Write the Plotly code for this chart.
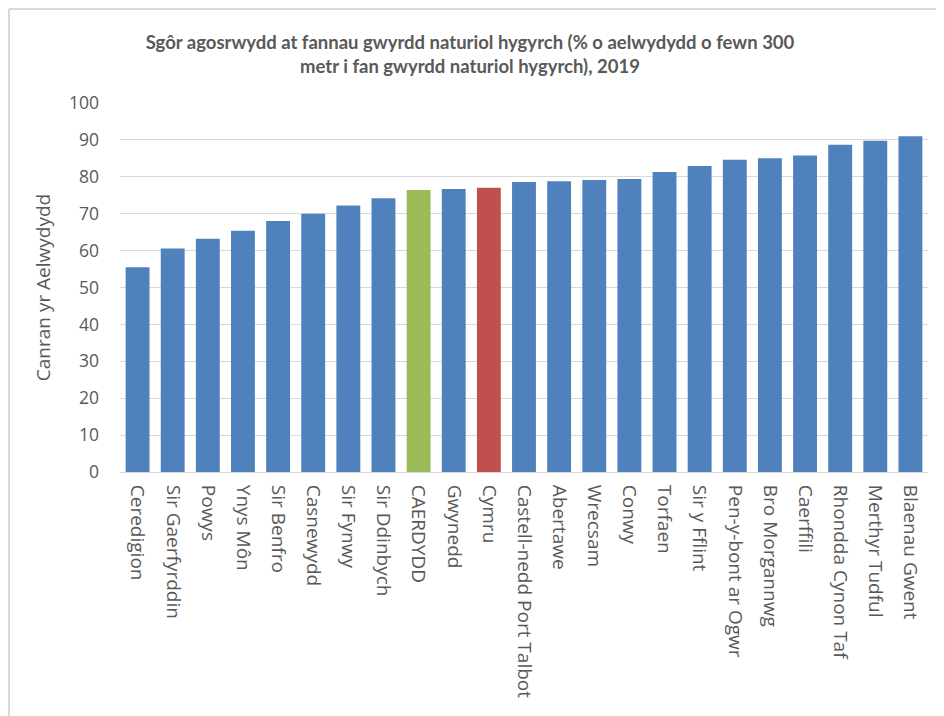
import plotly.graph_objects as go

categories = ["Ceredigion", "Sir Gaerfyrddin", "Powys", "Ynys Môn", "Sir Benfro", "Casnewydd",
              "Sir Fynwy", "Sir Ddinbych", "CAERDYDD", "Gwynedd", "Cymru",
              "Castell-nedd Port Talbot", "Abertawe", "Wrecsam", "Conwy", "Torfaen",
              "Sir y Fflint", "Pen-y-bont ar Ogwr", "Bro Morgannwg", "Caerffili",
              "Rhondda Cynon Taf", "Merthyr Tudful", "Blaenau Gwent"]
values = [55.5, 60.6, 63.2, 65.4, 68.0, 70.0, 72.2, 74.2, 76.4, 76.7, 77.0,
          78.6, 78.8, 79.1, 79.4, 81.3, 82.9, 84.6, 85.0, 85.8, 88.7, 89.8, 91.0]
highlight_colors = {"CAERDYDD": "#9BBB59", "Cymru": "#C0504D"}
base_color = "#4F81BD"
y_ticks = [0, 10, 20, 30, 40, 50, 60, 70, 80, 90, 100]

title_text = ("Sgôr agosrwydd at fannau gwyrdd naturiol hygyrch (% o aelwydydd o fewn 300<br>"
              "metr i fan gwyrdd naturiol hygyrch), 2019")
y_title = "Canran yr Aelwydydd"

colors = [highlight_colors.get(c, base_color) for c in categories]

W, H = 944, 716
OFF = 8  # page body margin
L, R, T, B = 112, 24, 95, 252
pw = W - L - R
ph = H - T - B


def px_x(p):
    return (p - OFF - L) / pw


def px_y(p):
    return (H - B - (p - OFF)) / ph


fig = go.Figure(go.Bar(x=categories, y=values, marker=dict(color=colors, line=dict(width=0)),
                       width=0.68))

lato = "Lato, 'Open Sans', sans-serif"
osans = "'Open Sans', Lato, sans-serif"
fig.update_layout(
    width=W, height=H,
    margin=dict(l=L, r=R, t=T, b=B, autoexpand=False),
    plot_bgcolor="white", paper_bgcolor="white",
    showlegend=False,
    title=dict(text=title_text, x=px_x(470), xref="paper", xanchor="center",
               y=1 - (49 - OFF) / H, yanchor="middle",
               font=dict(family=lato, size=18.5, color="#595959", weight="bold")),
    xaxis=dict(tickangle=90, tickfont=dict(family=osans, size=19, color="#595959"),
               showline=True, linecolor="#D9D9D9", linewidth=1, ticks="",
               ticklabelstandoff=8,
               showgrid=False, range=[-0.5, len(categories) - 0.5]),
    yaxis=dict(range=[0, 100], tickvals=y_ticks, showgrid=True, gridcolor="#D9D9D9",
               gridwidth=1, zeroline=False, ticks="", ticklabelstandoff=20,
               tickfont=dict(family=osans, size=17.5, color="#595959"),
               title=dict(text=y_title, standoff=13,
                          font=dict(family=osans, size=19, color="#595959"))),
)

# chart frame (top and left border lines)
fig.add_shape(type="line", xref="paper", yref="paper",
              x0=px_x(9), x1=px_x(944), y0=px_y(9), y1=px_y(9),
              line=dict(color="#D9D9D9", width=2))
fig.add_shape(type="line", xref="paper", yref="paper",
              x0=px_x(9), x1=px_x(9), y0=px_y(9), y1=px_y(724),
              line=dict(color="#D9D9D9", width=2))

fig.write_html("out.html")
